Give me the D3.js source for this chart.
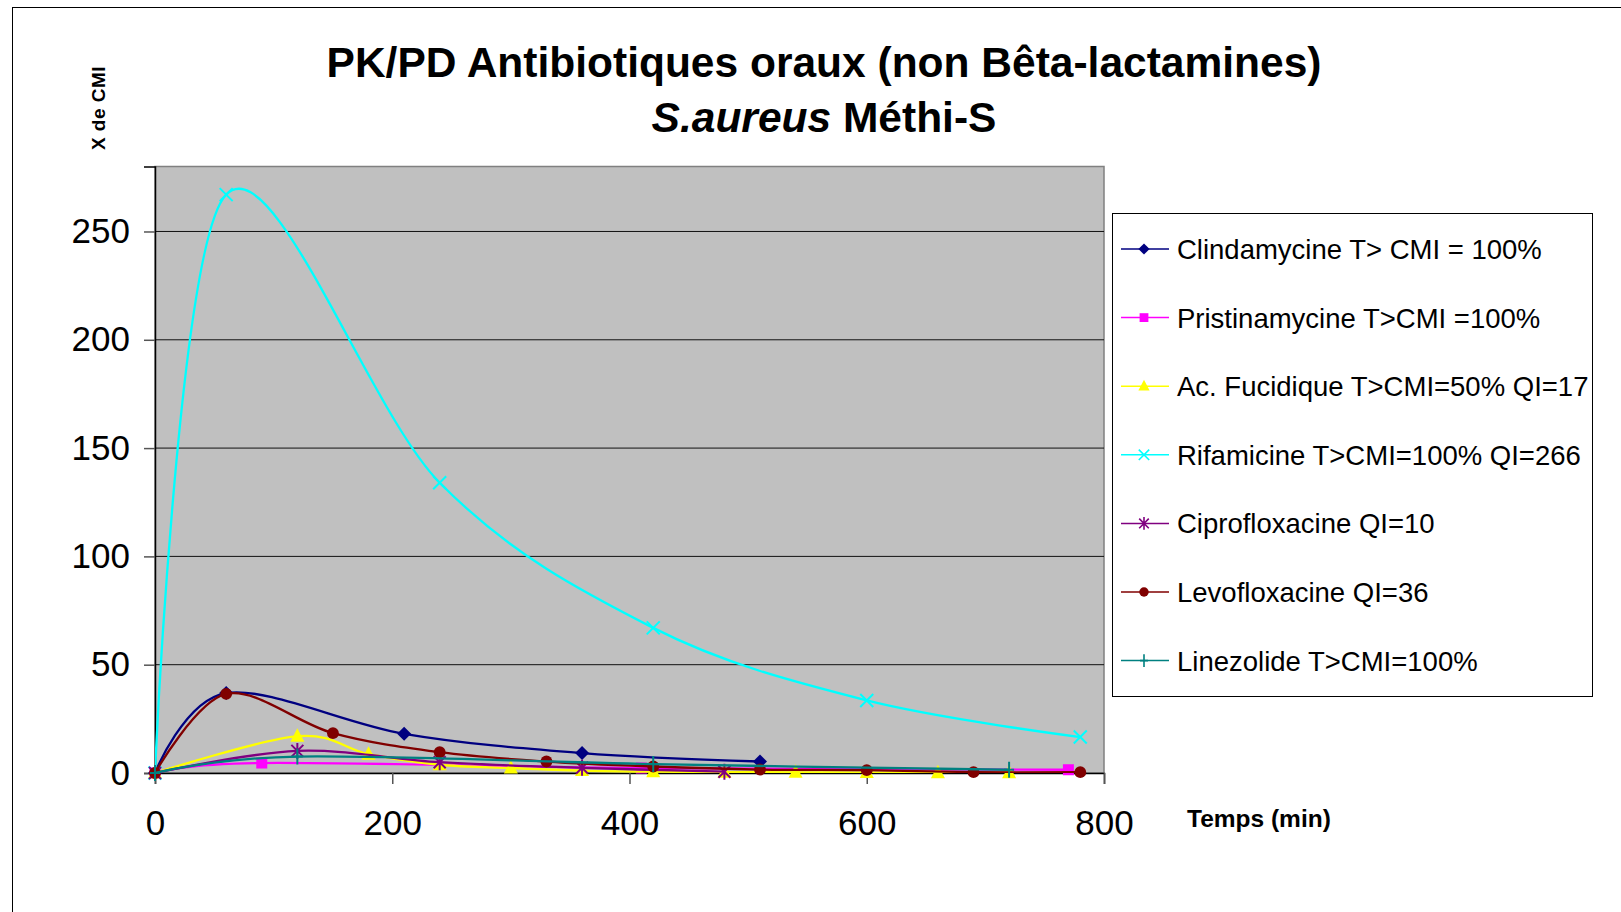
<!DOCTYPE html>
<html>
<head>
<meta charset="utf-8">
<script src="https://cdn.jsdelivr.net/npm/d3@7.9.0/dist/d3.min.js"></script>
<style>
  body { margin: 0; background: #fff; }
  svg { display: block; font-family: "Liberation Sans", Arial, sans-serif; }
</style>
</head>
<body>
<svg id="chart" width="1621" height="912"></svg>
<script>
// series (time in min, multiples of the MIC)
const seriesNames = [
  'Clindamycine T> CMI = 100%',
  'Pristinamycine T>CMI =100%',
  'Ac. Fucidique T>CMI=50% QI=17',
  'Rifamicine T>CMI=100% QI=266',
  'Ciprofloxacine QI=10',
  'Levofloxacine QI=36',
  'Linezolide T>CMI=100%'
];
const seriesColors = ['#000080', '#ff00ff', '#ffff00', '#00ffff', '#800080', '#800000', '#008080'];
const seriesMarkers = ['diamond', 'square', 'triangle', 'cross', 'asterisk', 'circle', 'plus'];

const clindaTimes = [0, 60, 210, 360, 510];
const clindaValues = [0, 36.9, 18.1, 9.2, 5.3];
const pristinaTimes = [0, 90, 410, 770];
const pristinaValues = [0, 4.6, 2.3, 1.5];
const fucidiqueTimes = [0, 120, 180, 240, 300, 360, 420, 480, 540, 600, 660, 720];
const fucidiqueValues = [0, 17, 8.7, 3.8, 2.3, 1.1, 0.6, 0.4, 0.3, 0.2, 0.1, 0.1];
const rifaTimes = [0, 60, 240, 420, 600, 780];
const rifaValues = [0, 267, 134, 67, 33.5, 16.6];
const ciproTimes = [0, 120, 240, 360, 480];
const ciproValues = [0, 10.2, 5.0, 2.4, 0.6];
const levoTimes = [0, 60, 150, 240, 330, 420, 510, 600, 690, 780];
const levoValues = [0, 36.5, 18.4, 9.6, 5.3, 3.0, 1.6, 1.3, 0.4, 0.4];
const linezoTimes = [0, 120, 420, 720];
const linezoValues = [0, 7.6, 4.1, 1.5];

const xTicks = [0, 200, 400, 600, 800];
const yTicks = [0, 50, 100, 150, 200, 250];

const allTimes = [clindaTimes, pristinaTimes, fucidiqueTimes, rifaTimes, ciproTimes, levoTimes, linezoTimes];
const allValues = [clindaValues, pristinaValues, fucidiqueValues, rifaValues, ciproValues, levoValues, linezoValues];

const series = seriesNames.map((name, i) => ({
  name: name,
  color: seriesColors[i],
  marker: seriesMarkers[i],
  points: allTimes[i].map((t, j) => ({ t: t, v: allValues[i][j] }))
}));

const svg = d3.select('#chart');
const plot = { left: 155, right: 1104, top: 166.5, bottom: 773 };

const x = d3.scaleLinear().domain([0, 800]).range([plot.left, plot.right]);
const y = d3.scaleLinear().domain([0, 280]).range([plot.bottom, plot.top]);

// outer chart frame
svg.append('rect')
  .attr('x', 12.5).attr('y', 7.5)
  .attr('width', 1640).attr('height', 940)
  .attr('fill', 'none').attr('stroke', '#000').attr('stroke-width', 1);

// plot background
svg.append('rect')
  .attr('x', plot.left).attr('y', plot.top)
  .attr('width', plot.right - plot.left).attr('height', plot.bottom - plot.top)
  .attr('fill', '#c0c0c0').attr('stroke', '#808080').attr('stroke-width', 1.5);

// gridlines
svg.append('g')
  .selectAll('line')
  .data(yTicks.filter(d => d > 0))
  .join('line')
  .attr('x1', plot.left).attr('x2', plot.right)
  .attr('y1', d => y(d)).attr('y2', d => y(d))
  .attr('stroke', '#111').attr('stroke-width', 1);

// axes
const yAxis = d3.axisLeft(y).tickValues(yTicks).tickSize(11).tickPadding(14).tickFormat(d3.format('d'));
const xAxis = d3.axisBottom(x).tickValues(xTicks).tickSize(11).tickPadding(26).tickFormat(d3.format('d'));

const gy = svg.append('g').attr('transform', `translate(${plot.left},0)`).call(yAxis);
const gx = svg.append('g').attr('transform', `translate(0,${plot.bottom})`).call(xAxis);

[gx, gy].forEach(g => {
  g.select('.domain').attr('stroke', '#000').attr('stroke-width', 1.5);
  g.selectAll('.tick line').attr('stroke', '#555').attr('stroke-width', 1.5);
  g.selectAll('.tick text')
    .attr('fill', '#000')
    .style('font-size', '35px')
    .style('font-family', '"Liberation Sans", Arial, sans-serif');
});

// marker shapes
function markerPath(kind) {
  switch (kind) {
    case 'diamond': return 'M0,-7L7,0L0,7L-7,0Z';
    case 'square': return 'M-5.5,-5.5H5.5V5.5H-5.5Z';
    case 'triangle': return 'M0,-8L7,5.5L-7,5.5Z';
    case 'circle': return d3.symbol(d3.symbolCircle, 110)();
    case 'cross': return 'M-6.5,-6.5L6.5,6.5M-6.5,6.5L6.5,-6.5';
    case 'asterisk': return 'M-6,-6L6,6M-6,6L6,-6M0,-8V8';
    case 'plus': return 'M0,-8V8M-5,0H5';
  }
}
const strokeMarker = k => k === 'cross' || k === 'asterisk' || k === 'plus';

svg.append('clipPath').attr('id', 'clip')
  .append('rect')
  .attr('x', plot.left).attr('y', plot.top)
  .attr('width', plot.right - plot.left).attr('height', plot.bottom - plot.top);

const line = d3.line()
  .x(d => x(d.t))
  .y(d => y(d.v))
  .curve(d3.curveCardinal.tension(0));

const layer = svg.append('g');

series.forEach(s => {
  const g = layer.append('g');
  g.append('path')
    .attr('d', line(s.points))
    .attr('fill', 'none')
    .attr('stroke', s.color)
    .attr('stroke-width', 2.3)
    .attr('clip-path', 'url(#clip)');
  g.selectAll('path.mk')
    .data(s.points)
    .join('path')
    .attr('class', 'mk')
    .attr('transform', d => `translate(${x(d.t)},${y(d.v)})`)
    .attr('d', markerPath(s.marker))
    .attr('fill', strokeMarker(s.marker) ? 'none' : s.color)
    .attr('stroke', s.color)
    .attr('stroke-width', strokeMarker(s.marker) ? 2 : 0);
});

// titles
const title = svg.append('text')
  .attr('x', 824)
  .attr('text-anchor', 'middle')
  .attr('font-weight', 'bold')
  .style('font-size', '42.5px');
title.append('tspan').attr('x', 824).attr('y', 77).text('PK/PD Antibiotiques oraux (non Bêta-lactamines)');
const sub = title.append('tspan').attr('x', 824).attr('y', 132);
sub.append('tspan').attr('font-style', 'italic').text('S.aureus');
sub.append('tspan').text(' Méthi-S');

svg.append('text')
  .attr('transform', 'translate(105,108) rotate(-90)')
  .attr('text-anchor', 'middle')
  .attr('font-weight', 'bold')
  .style('font-size', '19px')
  .style('letter-spacing', '0.5px')
  .text('X de CMI');

svg.append('text')
  .attr('x', 1187).attr('y', 827)
  .attr('font-weight', 'bold')
  .style('font-size', '24.5px')
  .text('Temps (min)');

// legend
const legend = svg.append('g');
legend.append('rect')
  .attr('x', 1112.5).attr('y', 213.5)
  .attr('width', 480).attr('height', 483)
  .attr('fill', '#fff').attr('stroke', '#000').attr('stroke-width', 1);

series.forEach((s, i) => {
  const cy = 249 + i * 68.6;
  const item = legend.append('g').attr('transform', `translate(0,${cy})`);
  item.append('line')
    .attr('x1', 1121).attr('x2', 1169)
    .attr('stroke', s.color).attr('stroke-width', 1.5);
  item.append('path')
    .attr('transform', 'translate(1144,0) scale(0.8)')
    .attr('d', markerPath(s.marker))
    .attr('fill', strokeMarker(s.marker) ? 'none' : s.color)
    .attr('stroke', s.color)
    .attr('stroke-width', strokeMarker(s.marker) ? 2 : 0);
  item.append('text')
    .attr('x', 1177).attr('dy', '0.36em')
    .style('font-size', '27.5px')
    .text(s.name);
});
</script>
</body>
</html>
